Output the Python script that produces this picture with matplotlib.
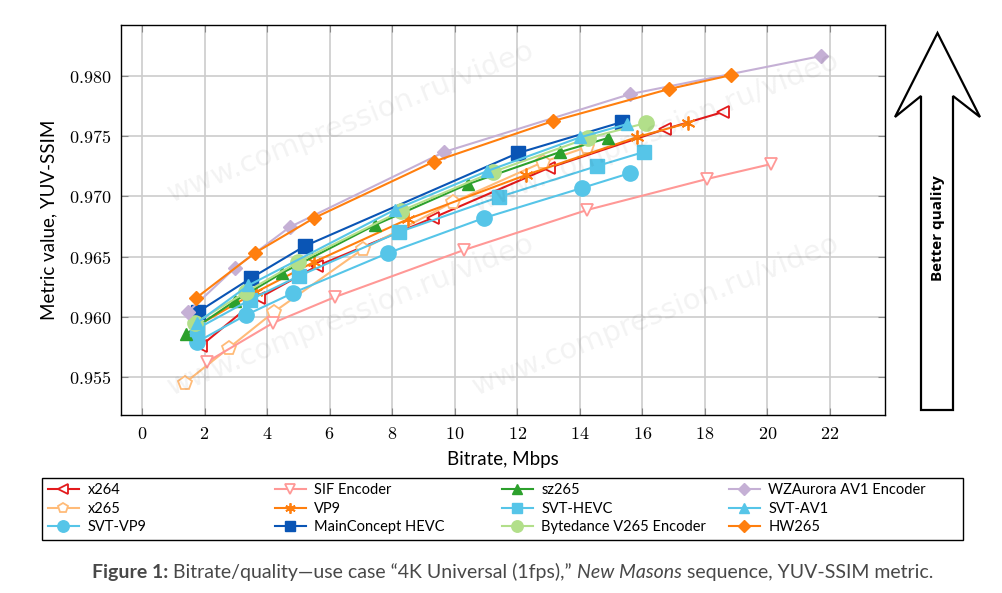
import matplotlib
matplotlib.use("Agg")
import matplotlib.pyplot as plt
from matplotlib.patches import Polygon, Rectangle
from matplotlib.ticker import FuncFormatter, MultipleLocator

plt.rcParams['mathtext.fontset'] = 'cm'

# data (bitrate in Mbps, YUV-SSIM)
x264_x = [1.89, 3.74, 5.60, 9.30, 13.00, 16.74, 18.58]
x264_y = [0.9576, 0.96156, 0.96422, 0.96821, 0.97236, 0.97560, 0.97701]
x265_x = [1.37, 2.78, 4.22, 7.07, 9.95, 12.83, 14.23]
x265_y = [0.95450, 0.95741, 0.96040, 0.96563, 0.96953, 0.97286, 0.97410]
svtvp9_x = [1.76, 3.33, 4.83, 7.87, 10.94, 14.07, 15.61]
svtvp9_y = [0.95791, 0.96015, 0.96198, 0.96530, 0.96821, 0.97070, 0.97194]
sif_x = [2.08, 4.19, 6.17, 10.30, 14.23, 18.07, 20.12]
sif_y = [0.95625, 0.95949, 0.96164, 0.96555, 0.96887, 0.97145, 0.97269]
vp9_x = [1.76, 3.65, 5.50, 8.51, 12.28, 15.83, 17.46]
vp9_y = [0.95924, 0.96206, 0.96455, 0.96812, 0.97178, 0.97493, 0.97610]
mc_x = [1.79, 3.49, 5.21, 12.02, 15.35]
mc_y = [0.96040, 0.96322, 0.96588, 0.97360, 0.97618]
sz265_x = [1.41, 2.97, 4.48, 7.45, 10.43, 13.37, 14.90]
sz265_y = [0.95857, 0.96131, 0.96364, 0.96762, 0.97103, 0.97369, 0.97485]
svthevc_x = [1.76, 3.45, 5.02, 8.22, 11.42, 14.55, 16.05]
svthevc_y = [0.95900, 0.96140, 0.96339, 0.96704, 0.96995, 0.97252, 0.97369]
byte_x = [1.70, 3.33, 4.99, 8.28, 11.22, 14.26, 16.12]
byte_y = [0.95949, 0.96206, 0.96455, 0.96879, 0.97203, 0.97485, 0.97610]
wz_x = [1.47, 2.97, 4.73, 9.66, 15.61, 21.71]
wz_y = [0.96040, 0.96405, 0.96746, 0.97369, 0.97850, 0.98166]
svtav1_x = [1.76, 3.40, 8.09, 11.03, 14.00, 15.50]
svtav1_y = [0.95950, 0.96260, 0.96890, 0.97210, 0.97490, 0.97600]
hw_x = [1.73, 3.61, 5.50, 9.34, 13.14, 16.85, 18.84]
hw_y = [0.96156, 0.96530, 0.96820, 0.97290, 0.97626, 0.97892, 0.98008]

# legend order: column by column
series = [
    ("x264", x264_x, x264_y, "#e31a1c", "<", False, 9),
    ("x265", x265_x, x265_y, "#ffbb78", "p", False, 10),
    ("SVT-VP9", svtvp9_x, svtvp9_y, "#56c5e8", "o", True, 11),
    ("SIF Encoder", sif_x, sif_y, "#ff9896", "v", False, 9),
    ("VP9", vp9_x, vp9_y, "#ff7f0e", "*", False, 10),
    ("MainConcept HEVC", mc_x, mc_y, "#0a55b5", "s", True, 10),
    ("sz265", sz265_x, sz265_y, "#2ca02c", "^", True, 9),
    ("SVT-HEVC", svthevc_x, svthevc_y, "#56c5e8", "s", True, 10),
    ("Bytedance V265 Encoder", byte_x, byte_y, "#b2df8a", "o", True, 11),
    ("WZAurora AV1 Encoder", wz_x, wz_y, "#c5b0d5", "D", True, 7.5),
    ("SVT-AV1", svtav1_x, svtav1_y, "#56c5e8", "^", True, 9),
    ("HW265", hw_x, hw_y, "#ff7f0e", "D", True, 7.5),
]

fig = plt.figure(figsize=(10.02, 5.93), dpi=100)
ax = fig.add_axes([0.1208, 0.3002, 0.7624, 0.6576])

lines = []
for name, xs, ys, col, mk, filled, ms in series:
    if mk == "*":
        ln, = ax.plot(xs, ys, color=col, lw=1.5, marker=(6, 2, 0), ms=ms, mew=1.3, label=name)
    elif filled:
        ln, = ax.plot(xs, ys, color=col, lw=1.5, marker=mk, ms=ms, mfc=col, mec=col, label=name)
    else:
        ln, = ax.plot(xs, ys, color=col, lw=1.5, marker=mk, ms=ms, mfc="white", mec=col, mew=1.3, label=name)
    lines.append(ln)

ax.set_xlim(-0.67, 23.76)
ax.set_ylim(0.95184, 0.98424)
ax.xaxis.set_major_locator(MultipleLocator(2))
ax.yaxis.set_major_locator(MultipleLocator(0.005))
ax.xaxis.set_major_formatter(FuncFormatter(lambda v, p: f"${v:.0f}$"))
ax.yaxis.set_major_formatter(FuncFormatter(lambda v, p: f"${v:.3f}$"))
ax.tick_params(direction="in", length=5, color="#888888", labelsize=13, top=True, right=True, pad=7)
ax.grid(True, color="#cccccc", lw=1.2)
ax.set_axisbelow(True)
for s in ax.spines.values():
    s.set_linewidth(1.0)

ax.set_xlabel("Bitrate, Mbps", family="Lato", fontsize=13.5, labelpad=6)
ax.set_ylabel("Metric value, YUV-SSIM", family="Lato", fontsize=13.5, labelpad=8)

# watermark
for cx, cy in [(351, 122), (656, 132), (351, 315), (656, 315)]:
    fig.text(cx / 1002, 1 - cy / 593, "www.compression.ru/video", fontsize=21, color="black",
             alpha=0.05, rotation=21.8, ha="center", va="center", rotation_mode="anchor")

# legend: one column each, equally spaced, inside one frame
fig.patches.append(Rectangle((42 / 1002, 1 - 540 / 593), 921 / 1002, 62 / 593, fill=False,
                             edgecolor="black", lw=1.0, transform=fig.transFigure))
for c in range(4):
    colx = (48 + c * 227) / 1002
    fig.legend(lines[3 * c:3 * c + 3], [s[0] for s in series[3 * c:3 * c + 3]],
               loc="upper left", bbox_to_anchor=(colx, 1 - 483 / 593), frameon=False,
               prop={"family": "Lato", "size": 10.5}, handlelength=2.1, labelspacing=0.32,
               handletextpad=0.6, borderpad=0.0, borderaxespad=0, markerscale=0.75)

# better quality arrow
pts = [(937.5, 33), (980, 117), (953, 96), (953, 410), (921, 410), (921, 96), (895, 117)]
arrow = Polygon([(px / 1002, 1 - py / 593) for px, py in pts], closed=True, fill=False,
                edgecolor="black", lw=1.6, transform=fig.transFigure)
fig.patches.append(arrow)
fig.text(938 / 1002, 1 - 228 / 593, "Better quality", rotation=90, ha="center", va="center",
         family="Open Sans", fontweight="bold", fontsize=11)

# caption
cap = dict(family="Lato", fontsize=14, color="#484848")
t1 = fig.text(92 / 1002, 1 - 578 / 593, "Figure 1:", fontweight="bold", va="baseline", **cap)
a2 = ax.annotate(" Bitrate/quality\u2014use case \u201c4K Universal (1fps),\u201d ", xy=(1, 0),
                 xycoords=t1, va="bottom", annotation_clip=False, **cap)
a3 = ax.annotate("New Masons", xy=(1, 0), xycoords=a2, va="bottom", style="italic",
                 annotation_clip=False, **cap)
a4 = ax.annotate(" sequence, YUV-SSIM metric.", xy=(1, 0), xycoords=a3, va="bottom",
                 annotation_clip=False, **cap)

fig.savefig("out.png", dpi=100)
